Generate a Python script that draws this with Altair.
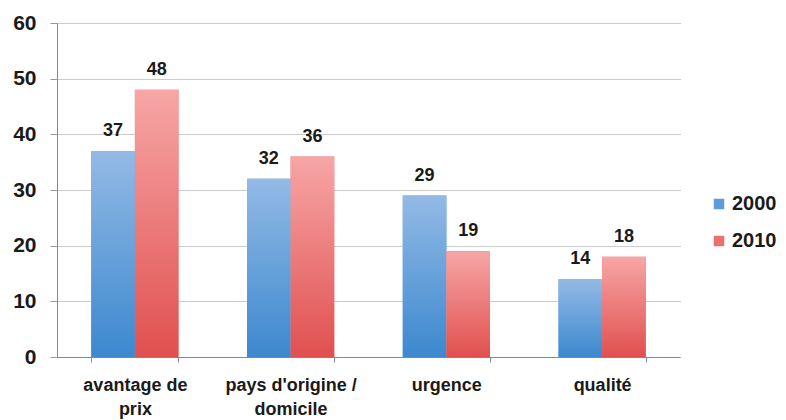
import altair as alt
import pandas as pd

categories = ["avantage de prix", "pays d'origine / domicile", "urgence", "qualité"]
cat_lines = [["avantage de", "prix"], ["pays d'origine /", "domicile"], ["urgence"], ["qualité"]]
years = ["2000", "2010"]
values_2000 = [37, 32, 29, 14]
values_2010 = [48, 36, 19, 18]

rows = []
for c, v in zip(categories, values_2000):
    rows.append({"cat": c, "year": "2000", "value": v})
for c, v in zip(categories, values_2010):
    rows.append({"cat": c, "year": "2010", "value": v})
df = pd.DataFrame(rows)

label_map = {c: l for c, l in zip(categories, cat_lines)}
expr_parts = []
for c, l in label_map.items():
    arr = "[" + ",".join("'" + s.replace("'", "\\'") + "'" for s in l) + "]"
    expr_parts.append(f"datum.value == '{c.replace(chr(39), chr(92) + chr(39))}' ? {arr}")
label_expr = " : ".join(expr_parts) + " : datum.label"

FONT = "Liberation Sans"

blue_grad = alt.Gradient(gradient="linear", x1=0, y1=0, x2=0, y2=1,
                         stops=[alt.GradientStop(color="#93bae5", offset=0),
                                alt.GradientStop(color="#3c88cf", offset=1)])
red_grad = alt.Gradient(gradient="linear", x1=0, y1=0, x2=0, y2=1,
                        stops=[alt.GradientStop(color="#f7a6a6", offset=0),
                               alt.GradientStop(color="#e0504f", offset=1)])

x_enc = alt.X("cat:N", sort=categories, title=None,
              scale=alt.Scale(paddingInner=0.44, paddingOuter=0.22),
              axis=alt.Axis(labelExpr=label_expr, labelAngle=0, labelFont=FONT,
                            labelFontSize=18, labelFontWeight="bold", labelColor="#1a1a1a",
                            labelPadding=14, labelLineHeight=24, tickBand="extent",
                            domainColor="#888888", tickColor="#888888", tickSize=5,
                            labelBaseline="top"))
y_enc = alt.Y("value:Q", title=None,
              scale=alt.Scale(domain=[0, 60], nice=False),
              axis=alt.Axis(values=[0, 10, 20, 30, 40, 50, 60], labelFont=FONT,
                            labelFontSize=21, labelFontWeight="bold", labelColor="#1a1a1a",
                            labelPadding=14, tickSize=7, tickColor="#999999",
                            domainColor="#888888", gridColor="#999999",
                            gridDash=[1, 1], gridWidth=1))
xoff = alt.XOffset("year:N", sort=years)

base = alt.Chart(df).encode(x=x_enc, y=y_enc, xOffset=xoff)

legend_layer = base.mark_bar(opacity=1).encode(
    color=alt.Color("year:N", sort=years,
                    scale=alt.Scale(domain=years, range=["#5f9bd8", "#ea7070"]),
                    legend=alt.Legend(title=None, orient="none", legendX=652, legendY=171,
                                      labelFont=FONT, labelFontSize=20, labelFontWeight="bold",
                                      labelColor="#1a1a1a", symbolType="square",
                                      symbolSize=110, rowPadding=17, labelOffset=3,
                                      symbolStrokeWidth=0))
)

blue_bars = base.transform_filter(alt.datum.year == "2000").mark_bar(fill=blue_grad)
red_bars = base.transform_filter(alt.datum.year == "2010").mark_bar(fill=red_grad)

labels = base.mark_text(baseline="bottom", dy=-11, font=FONT, fontSize=18,
                        fontWeight="bold", color="#1a1a1a").encode(text="value:Q")

chart = alt.layer(legend_layer, blue_bars, red_bars, labels).properties(
    width=623, height=334,
    autosize=alt.AutoSizeParams(type="none"),
    padding={"left": 57, "top": 23, "right": 106, "bottom": 63},
    background="white",
).configure_view(stroke=None)

chart.save("out.html", embed_options={"renderer": "svg", "actions": False})
